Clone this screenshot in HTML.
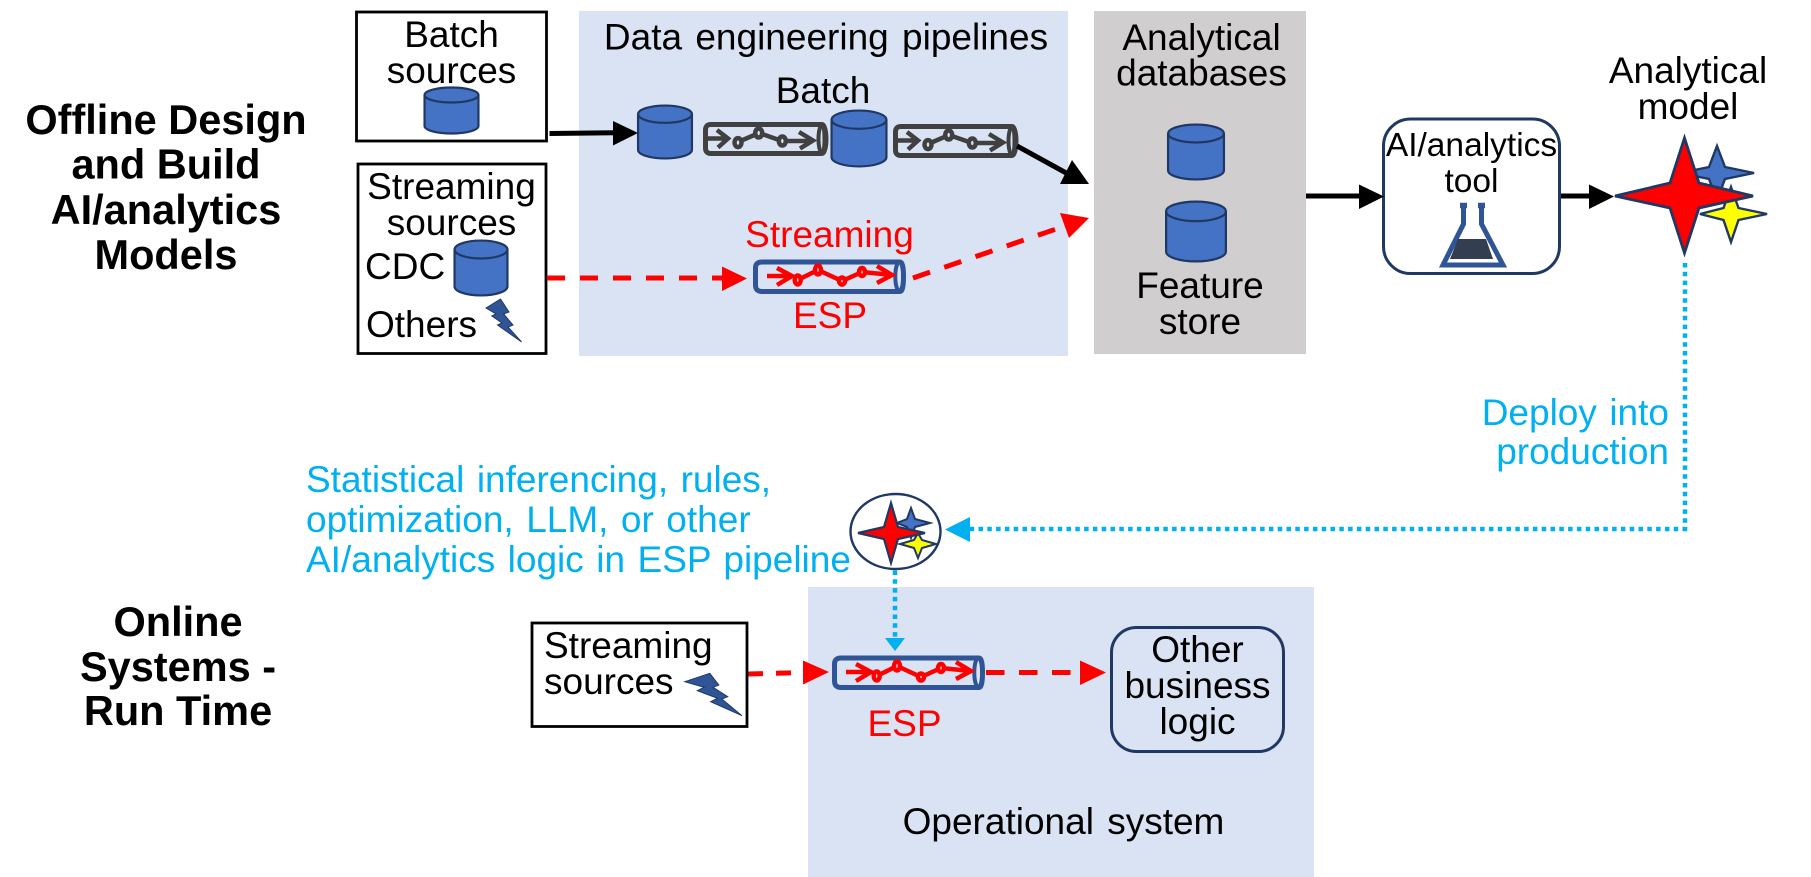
<!DOCTYPE html>
<html>
<head>
<meta charset="utf-8">
<style>
html,body{margin:0;padding:0;background:#fff}
svg{display:block}
text{font-family:"Liberation Sans",Arial,sans-serif;font-size:37px;word-spacing:2.2px;fill:#000}
.m{text-anchor:middle}
.b{font-weight:bold;font-size:41.5px;word-spacing:0;text-anchor:middle}
.r{fill:#f00;text-anchor:middle}
.c{fill:#00B0F0}
</style>
</head>
<body>
<svg width="1811" height="877" viewBox="0 0 1811 877" xmlns="http://www.w3.org/2000/svg">
<defs>
<symbol id="cyl" viewBox="0 0 100 100" preserveAspectRatio="none" overflow="visible">
<path d="M1,17 A49,16 0 0 1 99,17 V83 A49,16 0 0 1 1,83 Z" fill="#4472C4" stroke="#203864" stroke-width="2.200" vector-effect="non-scaling-stroke"/>
<path d="M1,17 A49,16 0 0 0 99,17" fill="none" stroke="#203864" stroke-width="2.200" vector-effect="non-scaling-stroke"/>
</symbol>
<g id="pipeB" fill="none" stroke="#404040">
<path d="M8,2.5 H119 Q122,2.500 122,17 Q122,31.500 119,31.500 H8 Q2.500,31.500 2.500,26 V8 Q2.500,2.500 8,2.500 Z" stroke-width="5"/>
<ellipse cx="119.500" cy="17" rx="4" ry="14.500" stroke-width="4"/>
<path d="M5,16.500 H25 M14,8 L25,16.500 L15,25.500 M35,20 L56,11 L79,19 H110 M96,10 L110,18.500 L97,26.500" stroke-width="4.500"/>
<ellipse cx="35" cy="20.600" rx="3.500" ry="4.500" fill="#DAE3F3" stroke-width="4.500"/>
<ellipse cx="55.700" cy="11" rx="3.500" ry="4.500" fill="#DAE3F3" stroke-width="4.500"/>
<ellipse cx="79.300" cy="19" rx="3.500" ry="4.500" fill="#DAE3F3" stroke-width="4.500"/>
</g>
<g id="pipeR" fill="none">
<path d="M8,2 H146 Q149.500,2 149.500,16.500 Q149.500,31.500 146,31.500 H8 Q1.500,31.500 1.500,25 V8 Q1.500,2 8,2 Z" stroke="#2F5597" stroke-width="5"/>
<ellipse cx="145.300" cy="16.500" rx="4" ry="14.500" stroke="#2F5597" stroke-width="4"/>
<path d="M13,16 H38 M23,8 L38,16 L23,25 M43.700,20 L64,10 L88,21 L108,12 L138,15 M123,6 L138,15 L123,23" stroke="#f00" stroke-width="4.500"/>
<ellipse cx="43.700" cy="20" rx="3" ry="4.500" fill="#DAE3F3" stroke="#f00" stroke-width="4.500"/>
<ellipse cx="64" cy="10" rx="3" ry="4.500" fill="#DAE3F3" stroke="#f00" stroke-width="4.500"/>
<ellipse cx="88" cy="21" rx="3" ry="3.500" fill="#DAE3F3" stroke="#f00" stroke-width="4.500"/>
<ellipse cx="108" cy="12" rx="3" ry="4" fill="#DAE3F3" stroke="#f00" stroke-width="4.500"/>
</g>
</defs>

<!-- panels -->
<rect x="579" y="11" width="489" height="345" fill="#DAE3F3"/>
<rect x="1094" y="11" width="212" height="343" fill="#D0CECE"/>
<rect x="808" y="587" width="506" height="290" fill="#DAE3F3"/>

<!-- titles -->
<text class="b" x="166" y="134">Offline Design</text>
<text class="b" x="166" y="178.500">and Build</text>
<text class="b" x="166" y="224">AI/analytics</text>
<text class="b" x="166" y="269">Models</text>
<text class="b" x="178" y="636">Online</text>
<text class="b" x="178" y="681">Systems -</text>
<text class="b" x="178" y="725">Run Time</text>

<!-- batch sources -->
<rect x="356.500" y="12" width="190" height="129" fill="#fff" stroke="#000" stroke-width="2.800"/>
<text class="m" x="451.500" y="47">Batch</text>
<text class="m" x="451.500" y="83">sources</text>
<use href="#cyl" x="424" y="87" width="55" height="47"/>

<!-- streaming sources -->
<rect x="358" y="164" width="188" height="189.500" fill="#fff" stroke="#000" stroke-width="2.800"/>
<text class="m" x="451.500" y="199">Streaming</text>
<text class="m" x="451.500" y="235">sources</text>
<text x="365" y="279">CDC</text>
<text x="366" y="337">Others</text>
<use href="#cyl" x="454" y="240" width="54" height="56"/>
<path d="M486,308 L500.500,299 L509,312 L503.600,314 L513,325 L508,327 L521.600,342 L497.500,325 L502,323 L491.800,316 L496,314 Z" fill="#2F5597" stroke="#203864" stroke-width="1"/>

<!-- data engineering -->
<text class="m" x="826" y="49.500" style="word-spacing:3px">Data engineering pipelines</text>
<text class="m" x="823" y="103">Batch</text>
<use href="#cyl" x="637.500" y="105" width="55" height="54"/>
<use href="#pipeB" x="703" y="122"/>
<use href="#cyl" x="831" y="110" width="56" height="57"/>
<use href="#pipeB" x="893" y="124"/>
<text class="r" x="829.500" y="247">Streaming</text>
<use href="#pipeR" x="754" y="260"/>
<text class="r" x="830" y="328">ESP</text>

<!-- analytical databases -->
<text class="m" x="1201.500" y="50">Analytical</text>
<text class="m" x="1201.500" y="85.500">databases</text>
<use href="#cyl" x="1167.500" y="124" width="57" height="56"/>
<use href="#cyl" x="1165.500" y="201" width="61" height="61"/>
<text class="m" x="1200" y="298">Feature</text>
<text class="m" x="1200" y="334">store</text>

<!-- tool -->
<rect x="1383.500" y="119" width="176" height="154.500" rx="27" fill="#fff" stroke="#1F3864" stroke-width="3"/>
<text class="m" x="1471.500" y="156" style="font-size:33.500px">AI/analytics</text>
<text class="m" x="1471.500" y="192" style="font-size:33.500px">tool</text>
<path d="M1463.500,203 V224 L1443,265 H1503 L1481.500,224 V203" fill="none" stroke="#2F5597" stroke-width="5"/>
<path d="M1460,205.500 H1467 M1478,205.500 H1485" stroke="#2F5597" stroke-width="5.500"/>
<path d="M1458,239 H1486 L1493,259 H1450 Z" fill="#333F50"/>

<!-- analytical model -->
<text class="m" x="1688" y="83">Analytical</text>
<text class="m" x="1688" y="119">model</text>
<path d="M1717,146 L1725,167 L1754,173 L1725,179 L1717,200 L1709,179 L1680,173 L1709,167 Z" fill="#4472C4" stroke="#1F3864" stroke-width="2.400"/>
<path d="M1731,187 L1738.500,208 L1767,214 L1738.500,220 L1731,242 L1723.500,220 L1700,214 L1723.500,208 Z" fill="#FF0" stroke="#1F3864" stroke-width="2.400"/>
<path d="M1684.500,138 L1699,183 L1753,196 L1699,208 L1684.500,253 L1670,208 L1615,196 L1670,183 Z" fill="#f00" stroke="#1F3864" stroke-width="2.800"/>

<!-- black arrows -->
<path d="M549.500,133.500 L615,132.800" stroke="#000" stroke-width="5" fill="none"/>
<path d="M613,121 L638,133 L613,145.500 Z" fill="#000"/>
<path d="M1017,146 L1068,174" stroke="#000" stroke-width="5" fill="none"/>
<path d="M1072,160 L1060,184 H1089 Z" fill="#000"/>
<path d="M1306,196 H1361" stroke="#000" stroke-width="5" fill="none"/>
<path d="M1359,184.500 L1384,196.500 L1359,209 Z" fill="#000"/>
<path d="M1561,196 H1591" stroke="#000" stroke-width="5" fill="none"/>
<path d="M1589,184.500 L1614,196.500 L1589,209 Z" fill="#000"/>

<!-- red dashed arrows -->
<path d="M547,278 H722" stroke="#f00" stroke-width="5" stroke-dasharray="18 15" fill="none"/>
<path d="M722,266.500 L747,278.500 L722,291 Z" fill="#f00"/>
<path d="M913,278 L1065,226" stroke="#f00" stroke-width="5" stroke-dasharray="18 15" fill="none"/>
<path d="M1060,213 L1089,218 L1069,238 Z" fill="#f00"/>
<path d="M748,674 L803,672.500" stroke="#f00" stroke-width="5" stroke-dasharray="15 13" fill="none"/>
<path d="M803,660.500 L829,672 L803,684.500 Z" fill="#f00"/>
<path d="M986,672.500 H1080" stroke="#f00" stroke-width="5" stroke-dasharray="18.500 14.500" fill="none"/>
<path d="M1080,660.500 L1106,672.500 L1080,685 Z" fill="#f00"/>

<!-- deploy -->
<text class="c" x="1669" y="425" text-anchor="end">Deploy into</text>
<text class="c" x="1669" y="464" text-anchor="end">production</text>
<path d="M1685,263 V529 H970" fill="none" stroke="#00B0F0" stroke-width="4.500" stroke-dasharray="4.500 4.300"/>
<path d="M970,517 L945,529.500 L970,542 Z" fill="#00B0F0"/>

<!-- statistical text -->
<text class="c" x="306" y="492">Statistical inferencing, rules,</text>
<text class="c" x="306" y="532">optimization, LLM, or other</text>
<text class="c" x="306" y="572">AI/analytics logic in ESP pipeline</text>

<!-- small circle -->
<ellipse cx="895.500" cy="531.500" rx="45" ry="37.500" fill="#fff" stroke="#1F3864" stroke-width="2.400"/>
<path d="M911,508 L915,519 L930,523 L915,527 L911,538 L907,527 L897,523 L907,519 Z" fill="#4472C4" stroke="#1F3864" stroke-width="2"/>
<path d="M918,533 L922,540 L936,544 L922,548 L918,558 L914,548 L900,544 L914,540 Z" fill="#FF0" stroke="#1F3864" stroke-width="2"/>
<path d="M891,503 L898,527 L925,533 L898,539 L891,563 L884,539 L858,533 L884,527 Z" fill="#f00" stroke="#1F3864" stroke-width="2.200"/>

<!-- vertical dotted -->
<path d="M895,570.500 V639" fill="none" stroke="#00B0F0" stroke-width="4.500" stroke-dasharray="4.500 4.300"/>
<path d="M885,638 H905 L895,651 Z" fill="#00B0F0"/>

<!-- run time -->
<rect x="532" y="623" width="215" height="103.500" fill="#fff" stroke="#000" stroke-width="2.800"/>
<text x="544" y="658">Streaming</text>
<text x="544" y="694">sources</text>
<path d="M684.800,681.700 L709.800,673.300 L718.800,685 L713,687.300 L727.700,696.700 L721.900,699 L742,715.700 L710.700,701.700 L717.400,698.300 L697.300,690.700 L704,687.300 Z" fill="#2F5597" stroke="#203864" stroke-width="1"/>
<use href="#pipeR" x="833" y="656"/>
<text class="r" x="904.500" y="736">ESP</text>
<rect x="1111.500" y="627.500" width="172" height="124" rx="25" fill="none" stroke="#1F3864" stroke-width="3"/>
<text class="m" x="1197.500" y="662">Other</text>
<text class="m" x="1197.500" y="698">business</text>
<text class="m" x="1197.500" y="734">logic</text>
<text class="m" x="1063.500" y="834" style="word-spacing:3px">Operational system</text>
</svg>
</body>
</html>
